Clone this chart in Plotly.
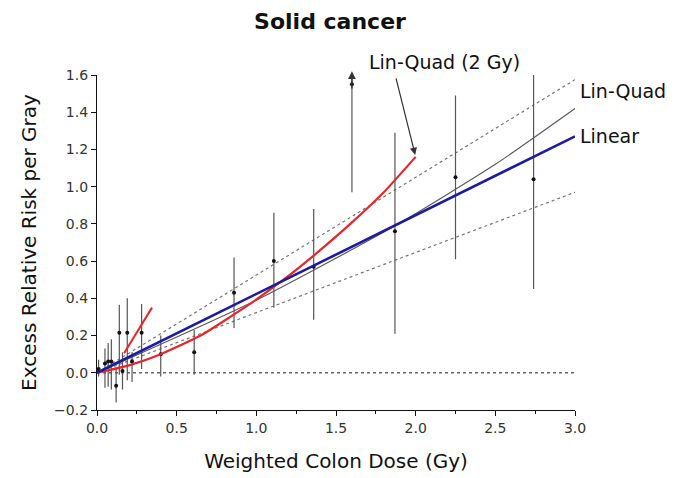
import plotly.graph_objects as go

# Data points (dose, ERR/Gy, lower CI, upper CI)
dose = [0.01, 0.05, 0.07, 0.09, 0.12, 0.14, 0.16, 0.19, 0.22, 0.28,
        0.40, 0.61, 0.86, 1.11, 1.36, 1.60, 1.87, 2.25, 2.74]
err = [0.02, 0.05, 0.06, 0.06, -0.07, 0.215, 0.01, 0.215, 0.06, 0.215,
       0.10, 0.11, 0.43, 0.60, 0.57, 1.55, 0.76, 1.05, 1.04]
lo = [-0.02, -0.08, -0.075, -0.09, -0.16, -0.01, -0.09, -0.04, -0.05, 0.02,
      -0.02, -0.01, 0.24, 0.35, 0.285, 0.97, 0.21, 0.61, 0.45]
hi = [0.07, 0.13, 0.16, 0.18, 0.03, 0.365, 0.11, 0.40, 0.11, 0.37,
      0.20, 0.23, 0.62, 0.86, 0.88, 1.62, 1.29, 1.49, 1.60]

# Fitted lines
lin_x = [0.0, 3.0]
lin_y = [0.0, 1.27]
lin_up_y = [0.0, 1.575]
lin_lo_y = [0.0, 0.97]
lq_x = [0.0, 1.0, 1.87, 2.5, 3.0]
lq_y = [0.0, 0.39, 0.79, 1.12, 1.42]
lq2_x = [0.0, 0.2, 0.4, 0.65, 0.96, 1.17, 1.36, 1.59, 1.8, 2.0]
lq2_y = [0.0, 0.04, 0.10, 0.20, 0.37, 0.50, 0.63, 0.80, 0.97, 1.16]
low_x = [0.17, 0.345]
low_y = [0.105, 0.35]
zero_x = [0.0, 3.0]
zero_y = [0.0, 0.0]

x_ticks = [0.0, 0.5, 1.0, 1.5, 2.0, 2.5, 3.0]
y_ticks = [-0.2, 0.0, 0.2, 0.4, 0.6, 0.8, 1.0, 1.2, 1.4, 1.6]

FONT = "DejaVu Sans"

fig = go.Figure()

fig.add_trace(go.Scatter(x=zero_x, y=zero_y, mode="lines",
                         line=dict(color="#666666", width=1.4, dash="dot"),
                         hoverinfo="skip"))
fig.add_trace(go.Scatter(x=lin_x, y=lin_up_y, mode="lines",
                         line=dict(color="#777777", width=1.2, dash="dot")))
fig.add_trace(go.Scatter(x=lin_x, y=lin_lo_y, mode="lines",
                         line=dict(color="#777777", width=1.2, dash="dot")))
fig.add_trace(go.Scatter(x=lq_x, y=lq_y, mode="lines",
                         line=dict(color="#5a5a5a", width=1.2, shape="spline", smoothing=0.6)))

err_plus = [h - e for h, e in zip(hi, err)]
err_minus = [e - l for e, l in zip(err, lo)]
fig.add_trace(go.Scatter(
    x=dose, y=err, mode="markers",
    marker=dict(color="#111111", size=4),
    error_y=dict(type="data", symmetric=False, array=err_plus,
                 arrayminus=err_minus, width=0, thickness=1.2,
                 color="#555555"),
))

fig.add_trace(go.Scatter(x=lq2_x, y=lq2_y, mode="lines",
                         line=dict(color="#e8262a", width=2.2, shape="spline", smoothing=0.5)))
fig.add_trace(go.Scatter(x=low_x, y=low_y, mode="lines",
                         line=dict(color="#e8262a", width=2)))
fig.add_trace(go.Scatter(x=lin_x, y=lin_y, mode="lines",
                         line=dict(color="#1c1ca0", width=2.6)))

# arrow on the 1.6 Gy point (upper limit off-scale)
i_arrow = dose.index(1.60)
fig.add_annotation(x=dose[i_arrow], y=hi[i_arrow], ax=dose[i_arrow], ay=hi[i_arrow] - 0.1,
                   xref="x", yref="y", axref="x", ayref="y", text="",
                   showarrow=True, arrowhead=2, arrowsize=1.2, arrowwidth=1.3,
                   arrowcolor="#333333")

# labels
fig.add_annotation(x=lq2_x[-1], y=lq2_y[-1], ax=-20, ay=-80, xref="x", yref="y",
                   text="", showarrow=True, arrowhead=2, arrowsize=1.2,
                   arrowwidth=1.2, arrowcolor="#333333", standoff=2)
fig.add_annotation(x=(367 - 97) / 478, y=(410 - 62) / 335, xref="paper", yref="paper",
                   text="Lin-Quad (2 Gy)", showarrow=False, xanchor="left",
                   yanchor="middle", font=dict(family=FONT, size=19, color="#111111"))
fig.add_annotation(x=3.0, y=lq_y[-1], xref="x", yref="y", xshift=3, yshift=18,
                   text="Lin-Quad", showarrow=False, xanchor="left",
                   yanchor="middle", font=dict(family=FONT, size=19, color="#111111"))
fig.add_annotation(x=3.0, y=lin_y[-1], xref="x", yref="y", xshift=3, yshift=0,
                   text="Linear", showarrow=False, xanchor="left",
                   yanchor="middle", font=dict(family=FONT, size=19, color="#111111"))

fig.update_layout(
    width=687, height=478,
    margin=dict(l=97, r=112, t=75, b=68),
    paper_bgcolor="white", plot_bgcolor="white",
    showlegend=False,
    font=dict(family=FONT, color="#111111"),
    title=dict(text="<b>Solid cancer</b>", x=330 / 687, xref="container",
               y=1 - 21 / 478, yref="container", xanchor="center", yanchor="middle",
               font=dict(family=FONT, size=22, color="#111111")),
    xaxis=dict(range=[0, 3], tickvals=x_ticks, tickformat=".1f", automargin=False,
               showgrid=False, zeroline=False, showline=True, linecolor="#111111",
               linewidth=1.2, ticks="outside", ticklen=5, tickcolor="#111111",
               minor=dict(dtick=0.25, ticks="outside", ticklen=3, tickcolor="#111111", showgrid=False),
               tickfont=dict(family=FONT, size=14, color="#333333"),
               title=dict(text="Weighted Colon Dose (Gy)", standoff=19,
                          font=dict(family=FONT, size=20, color="#111111"))),
    yaxis=dict(range=[-0.2, 1.6], tickvals=y_ticks, tickformat=".1f", automargin=False,
               showgrid=False, zeroline=False, showline=True, linecolor="#111111",
               linewidth=1.2, ticks="outside", ticklen=5, tickcolor="#111111",
               tickfont=dict(family=FONT, size=14, color="#333333"),
               title=dict(text="Excess Relative Risk per Gray", standoff=12,
                          font=dict(family=FONT, size=20, color="#111111"))),
)

fig.write_html("out.html")
